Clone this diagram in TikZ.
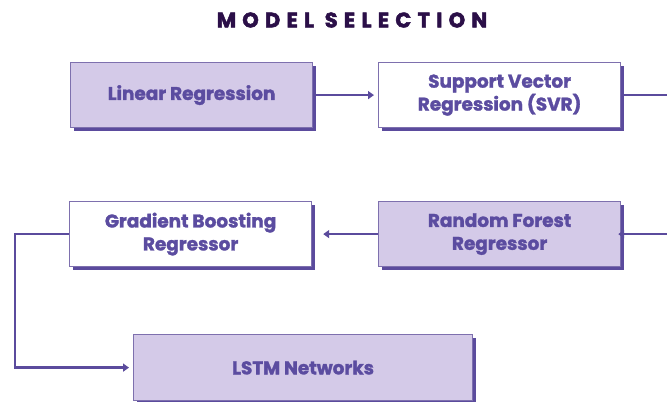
\documentclass[tikz,border=0pt]{standalone}
\usepackage{fontspec}
\setmainfont{Poppins}
\newfontfamily\boxfont[FakeBold=1.6]{Poppins Bold}
\newfontfamily\headfont[FakeBold=2.5,LetterSpace=30]{Poppins Bold}
\usetikzlibrary{arrows.meta,shadows}
\definecolor{boxfill}{HTML}{D4CAE8}
\definecolor{boxline}{HTML}{7E70AE}
\definecolor{shadowc}{HTML}{5B4B9D}
\definecolor{txt}{HTML}{5B4CA0}
\definecolor{linec}{HTML}{5B4B9D}
\definecolor{titlec}{HTML}{2B0F48}
\tikzset{
  model/.style={draw=boxline, line width=1.2bp, anchor=north west, inner sep=0pt,
    minimum width=242bp, minimum height=65bp, align=center, text=txt,
    font=\boxfont\fontsize{18.5}{23}\selectfont,
    drop shadow={shadow xshift=3.5bp, shadow yshift=-3.5bp, fill=shadowc, opacity=1}},
  filled/.style={model, fill=boxfill},
  plain/.style={model, fill=white},
  flow/.style={draw=linec, line width=2.6bp, -{Triangle[length=6bp,width=8bp]}},
  link/.style={draw=linec, line width=2.6bp}
}
\begin{document}
\begin{tikzpicture}[x=1bp,y=-1bp]
\useasboundingbox[fill=white] (0,0) rectangle (667,401);

% heading
\node[text=titlec, font=\headfont\fontsize{21}{24}\selectfont]
  (title) at (352,20) {MODEL SELECTION};

% model boxes
\node[filled] (lr) at (70,62) {Linear Regression};
\node[plain] (svr) at (378,62) {Support Vector\\Regression (SVR)};
\node[plain] (gb) at (69,201) {Gradient Boosting\\Regressor};
\node[filled] (rf) at (378,201) {Random Forest\\Regressor};
\node[filled, minimum width=339bp, minimum height=66bp] (lstm) at (133,334) {LSTM Networks};

% edge stubs
\coordinate (e1) at (667,96);
\coordinate (e2) at (667,234);

% connectors
\draw[flow, shorten >=4bp] (lr.east) -- (svr.west);
\draw[link] (svr.east) -- (svr.east -| e1);
\draw[flow, shorten >=-3bp] (rf.east -| e2) -- (rf.east);
\draw[flow, shorten >=11bp] (rf.west) -- (gb.east);
\draw[flow, shorten >=4bp] (gb.west) -- ++(-54,0) |- (lstm.west);
\end{tikzpicture}
\end{document}
